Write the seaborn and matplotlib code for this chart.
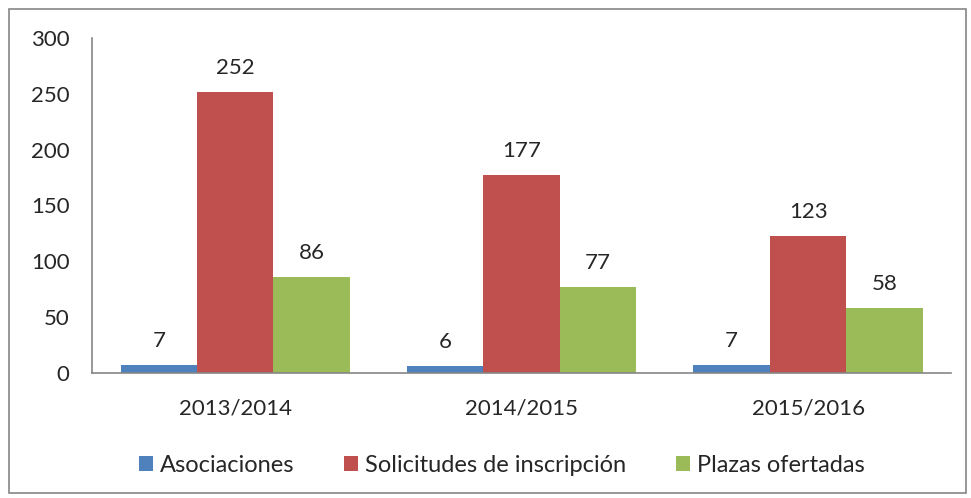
import pandas as pd
import matplotlib.pyplot as plt
import seaborn as sns
from matplotlib.patches import Rectangle

# data
cursos = ["2013/2014", "2014/2015", "2015/2016"]
asociaciones = [7, 6, 7]
solicitudes = [252, 177, 123]
plazas = [86, 77, 58]
series = ["Asociaciones", "Solicitudes de inscripción", "Plazas ofertadas"]
colores = ["#4F81BD", "#C0504D", "#9BBB59"]

df = pd.DataFrame({
    "curso": cursos * 3,
    "serie": [series[0]] * 3 + [series[1]] * 3 + [series[2]] * 3,
    "valor": asociaciones + solicitudes + plazas,
})

sns.set_style("white")
plt.rcParams["font.family"] = ["Lato", "DejaVu Sans"]

fig = plt.figure(figsize=(9.71, 4.98), dpi=100)
ax = fig.add_axes([0.0947, 0.251, 0.885, 0.6727])

sns.barplot(data=df, x="curso", y="valor", hue="serie", palette=colores,
            width=0.8, saturation=1, linewidth=0, ax=ax)

for cont in ax.containers:
    ax.bar_label(cont, padding=10, fontsize=16)

ax.set_ylim(0, 300)
ax.set_yticks(range(0, 301, 50))
ax.set_xlim(-0.5, 2.5)
ax.set_xlabel("")
ax.set_ylabel("")
ax.tick_params(axis="both", length=0, labelsize=16)
ax.tick_params(axis="y", pad=16)
ax.tick_params(axis="x", pad=18)
for s in ["top", "right"]:
    ax.spines[s].set_visible(False)
for s in ["left", "bottom"]:
    ax.spines[s].set_color("#868686")
    ax.spines[s].set_linewidth(1.2)

handles, labels = ax.get_legend_handles_labels()
ax.legend(handles, labels, loc="center", bbox_to_anchor=(0.517, 0.066),
          bbox_transform=fig.transFigure, ncol=3, frameon=False, fontsize=17,
          handlelength=0.6, handleheight=0.6, handletextpad=0.3, columnspacing=2.1)

fig.patches.append(Rectangle((0.009, 0.01), 0.986, 0.972, transform=fig.transFigure,
                             fill=False, edgecolor="#868686", linewidth=1.2))

plt.savefig("out.png", dpi=100)
